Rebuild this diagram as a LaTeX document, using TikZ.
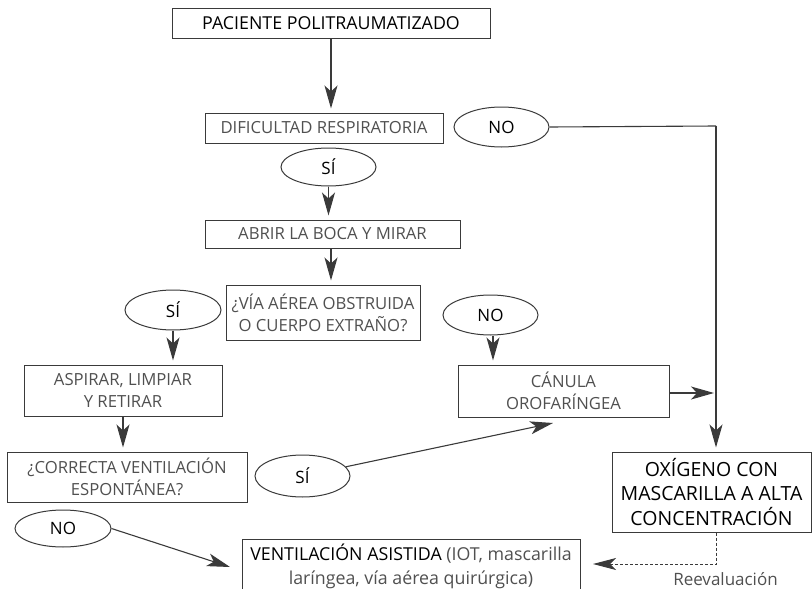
\documentclass[tikz,border=0pt]{standalone}
\usepackage{fontspec}
\setmainfont{Open Sans}
\usetikzlibrary{arrows.meta,calc,shapes.geometric}
\definecolor{ink}{HTML}{3A3A3A}
\definecolor{soft}{HTML}{505050}
\tikzset{
  box/.style={draw=ink, line width=1pt, rectangle, inner sep=0pt, align=center,
    text=soft, font=\fontsize{16.7pt}{22pt}\selectfont},
  strong/.style={text=black},
  oval/.style={draw=ink, line width=1pt, ellipse, inner sep=0pt, text=black,
    font=\fontsize{17pt}{20pt}\selectfont},
  flow/.style={draw=ink, line width=1.1pt, shorten >=4pt,
    -{Stealth[length=23pt,width=13pt,inset=6pt]}},
  plain/.style={draw=ink, line width=1.1pt},
  recheck/.style={draw=ink, line width=1pt, dash pattern=on 3pt off 2pt,
    -{Stealth[length=23pt,width=12pt,inset=6pt]}}
}
\begin{document}
\begin{tikzpicture}[x=1pt,y=-1pt]
\useasboundingbox (0,0) rectangle (812,589);

% main column
\node[box,strong,minimum width=318pt,minimum height=30pt,font=\fontsize{17.8pt}{22pt}\selectfont] (pac) at (331,23) {PACIENTE POLITRAUMATIZADO};
\node[box,minimum width=238pt,minimum height=30pt] (dif) at (324,128) {DIFICULTAD RESPIRATORIA};
\node[oval,minimum width=95pt,minimum height=40pt] (noA) at (501.5,127) {NO};
\node[oval,minimum width=95pt,minimum height=38pt] (siA) at (328.5,167) {SÍ};
\node[box,minimum width=255pt,minimum height=28pt] (abrir) at (332.5,234) {ABRIR LA BOCA Y MIRAR};
\node[box,minimum width=194pt,minimum height=55pt] (via) at (323,312.5) {¿VÍA AÉREA OBSTRUIDA\\O CUERPO EXTRAÑO?};

% obstructed / not obstructed branches
\node[oval,minimum width=96pt,minimum height=40pt] (siB) at (173,310) {SÍ};
\node[oval,minimum width=95pt,minimum height=40pt] (noB) at (490.5,315) {NO};
\node[box,minimum width=198pt,minimum height=51pt] (asp) at (123,390.5) {ASPIRAR, LIMPIAR\\Y RETIRAR};
\node[box,minimum width=211pt,minimum height=52pt] (can) at (563.5,391) {CÁNULA\\OROFARÍNGEA};

% ventilation check
\node[box,minimum width=240pt,minimum height=50pt] (corr) at (127,477) {¿CORRECTA VENTILACIÓN\\ESPONTÁNEA?};
\node[oval,minimum width=95pt,minimum height=42pt] (siC) at (302.5,476) {SÍ};
\node[oval,minimum width=96pt,minimum height=37pt] (noC) at (63,528.5) {NO};

% outcomes
\node[box,strong,minimum width=199pt,minimum height=80pt,font=\fontsize{19.5pt}{24.5pt}\selectfont] (oxi) at (711.5,492) {OXÍGENO CON\\MASCARILLA A ALTA\\CONCENTRACIÓN};
\node[box,minimum width=338pt,minimum height=54pt,font=\fontsize{17.8pt}{24pt}\selectfont] (vent) at (411,566) {{\color{black}VENTILACIÓN ASISTIDA} (IOT, mascarilla\\laríngea, vía aérea quirúrgica)};
\node[text=soft,font=\fontsize{17pt}{18pt}\selectfont] (reev) at (725.5,579) {Reevaluación};

% free ends of connectors
\coordinate (corner) at (716,126);
\coordinate (canin) at (553,423);
\coordinate (ventin) at (230,567);
\coordinate (dashturn) at (716,564);
\coordinate (dashend) at (593,564);
\coordinate (canout) at ([yshift=-2pt]can.east);

% connectors
\draw[flow] (pac.south) -- (pac.south |- dif.north);
\draw[flow] (siA.south) -- (siA.south |- abrir.north);
\draw[flow] ([xshift=-1.5pt]abrir.south) -- ([xshift=-1.5pt]abrir.south |- via.north);
\draw[flow] (siB.south) -- (siB.south |- asp.north);
\draw[flow] ([xshift=2.5pt]noB.south) -- ([xshift=2.5pt]noB.south |- can.north);
\draw[flow] (asp.south) -- (asp.south |- corr.north);
\draw[plain] (noA.east) -- (corner);
\draw[flow] (corner) -- (corner |- oxi.north);
\draw[flow,shorten >=2pt] (canout) -- (corner |- canout);
\draw[flow,shorten >=0pt] (siC.12) -- (canin);
\draw[flow,shorten >=0pt] (noC.east) -- (ventin);
\draw[recheck] ([xshift=4.5pt]oxi.south) -- (dashturn) -- (dashend);
\end{tikzpicture}
\end{document}
